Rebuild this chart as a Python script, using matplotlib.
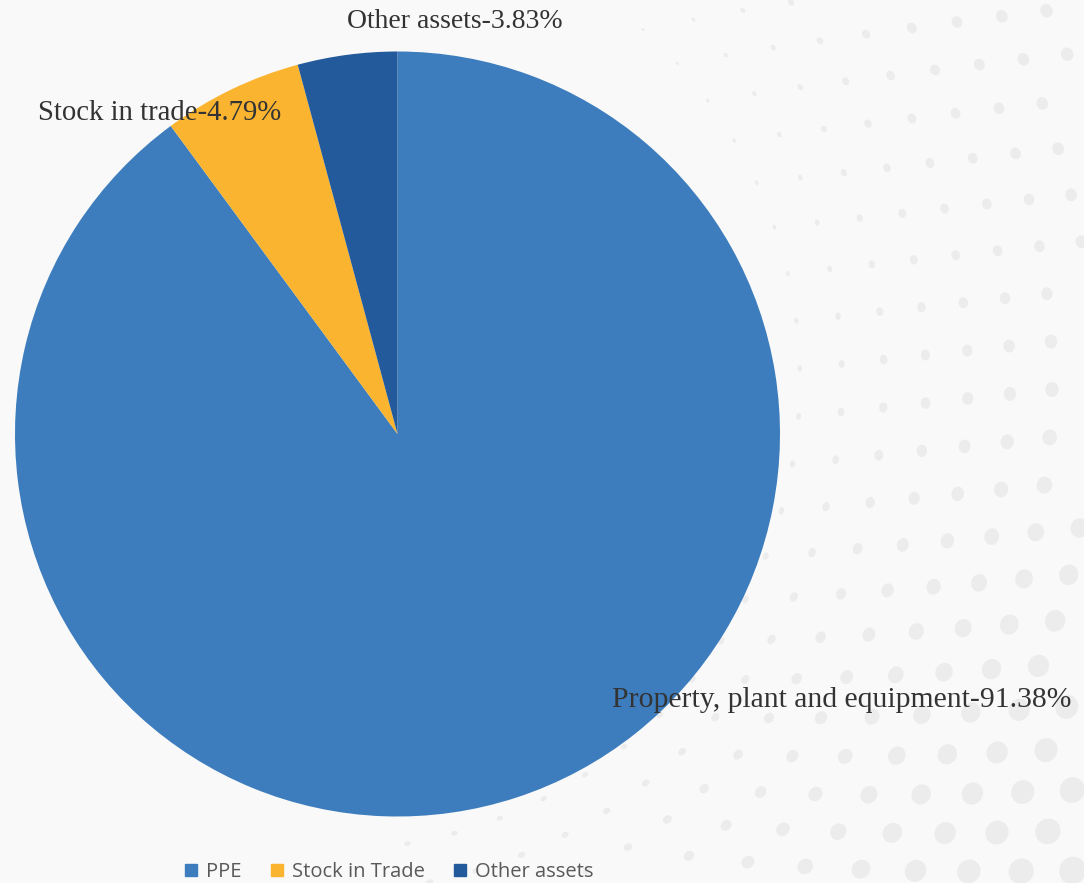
import numpy as np
import matplotlib
matplotlib.use("Agg")
import matplotlib.pyplot as plt
from matplotlib.patches import Ellipse
from matplotlib.lines import Line2D

# ---- data ----
categories = ["PPE", "Stock in Trade", "Other assets"]
values = [89.9, 5.9, 4.2]          # slice sizes as drawn
label_texts = ["Property, plant and equipment-91.38%",
               "Stock in trade-4.79%",
               "Other assets-3.83%"]
colors = ["#3d7dbd", "#fbb42f", "#235a9b"]

W, H = 1084, 883
fig = plt.figure(figsize=(W / 100, H / 100), dpi=100)
bg = "#f9f9f9"
fig.patch.set_facecolor(bg)

# ---- decorative dotted background ----
bax = fig.add_axes([0, 0, 1, 1], zorder=0)
bax.set_xlim(0, W)
bax.set_ylim(H, 0)
bax.axis("off")
cx, cy = 330, 380
for r in np.arange(470, 1000, 42):
    step = 48.0 / r
    for a in np.arange(-1.25, 1.45, step):
        x = cx + r * np.cos(a)
        y = cy + r * np.sin(a)
        if x < 0 or x > W or y < 0 or y > H:
            continue
        s = np.clip((r - 440) / 480, 0.05, 1.0)
        strength = np.clip((x - 600) / 300, 0, 1) * 0.5 + np.clip((y - 250) / 400, 0, 1) * 0.5
        if strength <= 0.05:
            continue
        w = 6 + 20 * s
        h = 4 + 22 * s
        ang = np.degrees(a) + 90
        e = Ellipse((x, y), w * strength + 3, h * strength + 2, angle=ang,
                    color="#ececec", lw=0)
        bax.add_patch(e)

# ---- pie ----
R = 382.5
pcx, pcy = 397.5, 434
ax = fig.add_axes([(pcx - R) / W, 1 - (pcy + R) / H, 2 * R / W, 2 * R / H], zorder=1)
ax.pie(values, colors=colors, startangle=90, counterclock=False,
       wedgeprops=dict(linewidth=0))
ax.set_xlim(-1, 1)
ax.set_ylim(-1, 1)
ax.set_aspect("auto")
ax.axis("off")

# ---- labels ----
serif = ["Liberation Serif", "DejaVu Serif"]
tc = "#333333"
lbl_pos = [(612, 700), (38, 113), (347, 22)]
lbl_size = [21.3, 20.7, 20.0]
for t, (x, y), fs in zip(label_texts, lbl_pos, lbl_size):
    fig.text(x / W, 1 - y / H, t, ha="left", va="center", fontsize=fs,
             family=serif, color=tc, zorder=5)

# ---- legend ----
handles = [Line2D([0], [0], marker="s", linestyle="none", markersize=8,
                  markerfacecolor=c, markeredgecolor=c) for c in colors]
leg = fig.legend(handles, categories, loc="center", ncol=3,
                 bbox_to_anchor=(388 / W, 1 - 872 / H), frameon=False,
                 prop={"family": "Open Sans", "size": 14.5},
                 handletextpad=0.3, columnspacing=1.3, handlelength=0.9)
for txt in leg.get_texts():
    txt.set_color("#595959")

fig.savefig("out.png", dpi=100, facecolor=bg)
